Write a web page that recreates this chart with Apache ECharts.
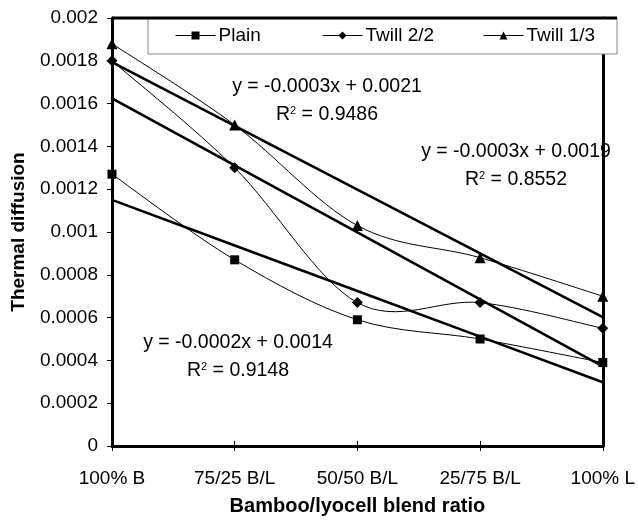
<!DOCTYPE html>
<html>
<head>
<meta charset="utf-8">
<script src="https://cdn.jsdelivr.net/npm/echarts@6/dist/echarts.min.js"></script>
<style>html,body{margin:0;padding:0;background:#fff}#c{width:638px;height:521px}</style>
</head>
<body>
<div id="c"></div>
<script>
const categories = ['100% B', '75/25 B/L', '50/50 B/L', '25/75 B/L', '100% L'];
const plain = [0.00127, 0.00087, 0.00059, 0.00050, 0.00039];
const twill22 = [0.00180, 0.00130, 0.00067, 0.00067, 0.00055];
const twill13 = [0.00188, 0.00150, 0.00103, 0.00088, 0.00070];
const yTickLabels = ['0', '0.0002', '0.0004', '0.0006', '0.0008', '0.001', '0.0012', '0.0014', '0.0016', '0.0018', '0.002'];
const eqPlain = ['y = -0.0002x + 0.0014', '0.9148'];
const eqTwill22 = ['y = -0.0003x + 0.0021', '0.9486'];
const eqTwill13 = ['y = -0.0003x + 0.0019', '0.8552'];

// least-squares linear trendline (x = 1..n), as in the spreadsheet
function trend(vals) {
  const n = vals.length;
  let sx = 0, sy = 0, sxx = 0, sxy = 0;
  vals.forEach((v, i) => { const x = i + 1; sx += x; sy += v; sxx += x * x; sxy += x * v; });
  const b = (n * sxy - sx * sy) / (n * sxx - sx * sx);
  const a = (sy - b * sx) / n;
  return vals.map((v, i) => a + b * (i + 1));
}

const FONT = 'Liberation Sans, Arial, sans-serif';
const chart = echarts.init(document.getElementById('c'), null, {renderer: 'canvas'});

// markers (legend entries); the connecting curve is drawn by a custom series below
const markerSeries = (name, data, symbol, size) => ({
  name, type: 'line', data, symbol, symbolSize: size,
  lineStyle: {color: '#000', width: 1, opacity: 0}, itemStyle: {color: '#000'},
  z: 4, animation: false
});
// spreadsheet-style smoothed curve (Catmull-Rom Bezier through the data points)
const curveSeries = (vals) => ({
  type: 'custom', coordinateSystem: 'cartesian2d', z: 3, silent: true, animation: false,
  data: vals.map((v, i) => [i, v]),
  renderItem: (params, api) => {
    const i = params.dataIndex, n = vals.length;
    if (i >= n - 1) return null;
    const P = (k) => api.coord([k, vals[k]]);
    const p0 = P(Math.max(i - 1, 0)), p1 = P(i), p2 = P(i + 1), p3 = P(Math.min(i + 2, n - 1));
    const t = 1 / 6;
    return {
      type: 'bezierCurve',
      shape: {
        x1: p1[0], y1: p1[1], x2: p2[0], y2: p2[1],
        cpx1: p1[0] + (p2[0] - p0[0]) * t, cpy1: p1[1] + (p2[1] - p0[1]) * t,
        cpx2: p2[0] - (p3[0] - p1[0]) * t, cpy2: p2[1] - (p3[1] - p1[1]) * t
      },
      style: {stroke: '#000', fill: 'none', lineWidth: 1}
    };
  }
});
const trendSeries = (data) => ({
  type: 'line', data, symbol: 'none', smooth: false,
  lineStyle: {color: '#000', width: 2.6}, z: 2, animation: false, silent: true
});

const legendItem = (name, left) => ({
  data: [name], left, top: 26, padding: 0, itemWidth: 40, itemHeight: 10, itemGap: 0,
  lineStyle: {color: '#000', width: 1, opacity: 1},
  textStyle: {fontFamily: FONT, fontSize: 19, color: '#000', padding: [0, 0, 0, -2]}, selectedMode: false, z: 10
});

const eqText = (lines, cx, cy) => ([
  {type: 'text', x: cx, y: cy, z: 20, style: {text: lines[0], font: '19.5px ' + FONT, fill: '#000', align: 'center', verticalAlign: 'middle'}},
  {type: 'text', x: cx, y: cy + 28, z: 20, style: {
    text: 'R{s|2} = ' + lines[1], font: '19.5px ' + FONT, fill: '#000', align: 'center', verticalAlign: 'middle',
    rich: {s: {fontSize: 11, fontFamily: FONT, verticalAlign: 'top', lineHeight: 12, fill: '#000'}}
  }}
]);

chart.setOption({
  backgroundColor: '#fff',
  animation: false,
  grid: {left: 112, right: 21, top: 18, bottom: 75, show: false},
  legend: [legendItem('Plain', 175), legendItem('Twill 2/2', 322), legendItem('Twill 1/3', 483)],
  xAxis: [{
    type: 'category', data: categories, boundaryGap: false,
    name: 'Bamboo/lyocell blend ratio', nameLocation: 'middle', nameGap: 50,
    nameTextStyle: {fontFamily: FONT, fontSize: 20, fontWeight: 'bold', color: '#000'},
    axisLine: {lineStyle: {color: '#000', width: 3}},
    axisTick: {show: true, length: 5, lineStyle: {color: '#000', width: 1}},
    axisLabel: {fontFamily: FONT, fontSize: 19, color: '#000', margin: 23},
    splitLine: {show: false}
  }, {
    type: 'category', data: categories, boundaryGap: false, position: 'bottom',
    axisLine: {show: false}, axisLabel: {show: false},
    axisTick: {show: true, inside: true, length: 5, lineStyle: {color: '#000', width: 1}}
  }],
  yAxis: [{
    type: 'value', min: 0, max: 0.002, interval: 0.0002,
    name: 'Thermal diffusion', nameLocation: 'middle', nameGap: 84,
    nameTextStyle: {fontFamily: FONT, fontSize: 19, fontWeight: 'bold', color: '#000'},
    axisLine: {show: true, lineStyle: {color: '#000', width: 3}},
    axisTick: {show: true, length: 5, lineStyle: {color: '#000', width: 1}},
    axisLabel: {fontFamily: FONT, fontSize: 19, color: '#000', margin: 14,
      formatter: (v) => yTickLabels[Math.round(v / 0.0002)]},
    splitLine: {show: false}
  }, {
    type: 'value', min: 0, max: 0.002, interval: 0.0002, position: 'right',
    axisLine: {show: true, lineStyle: {color: '#000', width: 3}},
    axisTick: {show: false}, axisLabel: {show: false}, splitLine: {show: false}
  }],
  graphic: [
    {type: 'line', shape: {x1: 112, y1: 18, x2: 617, y2: 18}, style: {stroke: '#000', lineWidth: 3}, z: 15},
    {type: 'rect', shape: {x: 148, y: 18, width: 469, height: 36}, style: {fill: '#fff', stroke: '#888', lineWidth: 1}, z: 5},
    ...eqText(eqTwill22, 327, 87),
    ...eqText(eqTwill13, 516, 152),
    ...eqText(eqPlain, 238, 343)
  ],
  series: [
    markerSeries('Plain', plain, 'rect', 9),
    markerSeries('Twill 2/2', twill22, 'diamond', 11),
    markerSeries('Twill 1/3', twill13, 'triangle', 11),
    curveSeries(plain),
    curveSeries(twill22),
    curveSeries(twill13),
    trendSeries(trend(plain)),
    trendSeries(trend(twill22)),
    trendSeries(trend(twill13))
  ]
});
</script>
</body>
</html>
